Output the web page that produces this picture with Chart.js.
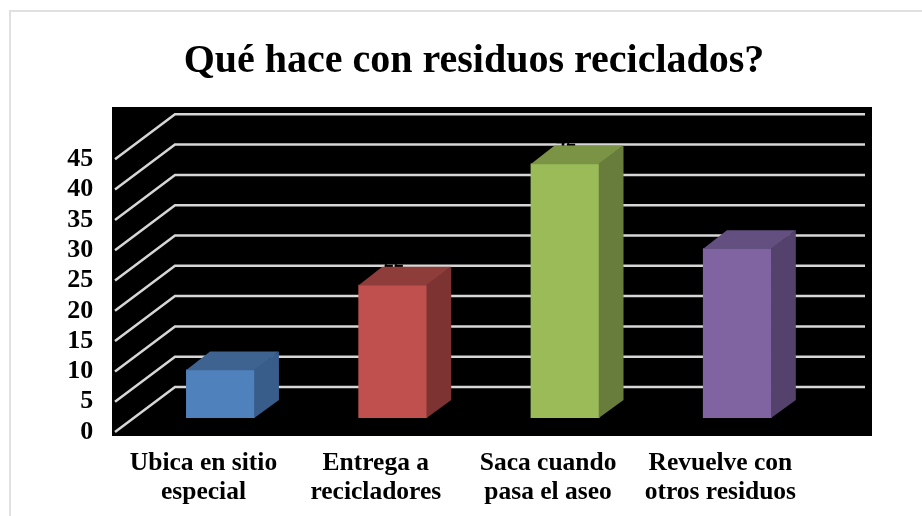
<!DOCTYPE html>
<html><head><meta charset="utf-8">
<style>html,body{margin:0;padding:0;background:#fff}canvas{display:block}</style>
<script src="https://cdn.jsdelivr.net/npm/chart.js@4"></script>
</head><body>
<div style="width:922px;height:516px;position:relative"><canvas id="c"></canvas></div>
<script>
const titleText = 'Qué hace con residuos reciclados?';
const categories = [['Ubica en sitio','especial'],['Entrega a','recicladores'],['Saca cuando','pasa el aseo'],['Revuelve con','otros residuos']];
const seriesValues = [8, 22, 42, 28];
const tickValues = [0,5,10,15,20,25,30,35,40,45];
const frontColors = ['#4f81bd','#c0504d','#9bbb59','#8064a2'];
const topColors = ['#3f6390','#8e3d3b','#7a9345','#634f80'];
const sideColors = ['#385d8a','#7d3331','#687d3c','#55426c'];
const fontFamily = '"Liberation Serif", serif';

const depth3d = {
  id:'depth3d',
  beforeDraw(chart){
    const c = chart.ctx;
    c.save();
    c.strokeStyle='#e0e0e0'; c.lineWidth=2;
    c.strokeRect(10,11,940,540);
    c.fillStyle='#000'; c.fillRect(112,107,760,329);
    c.restore();
  },
  beforeDatasetsDraw(chart){
    const c = chart.ctx, s = chart.scales.y2;
    c.save();
    c.strokeStyle='#d6d6d6'; c.lineWidth=2.5;
    tickValues.forEach(v=>{
      const y = s.getPixelForValue(v);
      c.beginPath(); c.moveTo(115,y); c.lineTo(175,y-45); c.lineTo(865,y-45); c.stroke();
    });
    const meta = chart.getDatasetMeta(0);
    c.fillStyle='#000'; c.textAlign='center'; c.textBaseline='bottom';
    c.font='bold 20px '+fontFamily;
    meta.data.forEach((b,i)=>c.fillText(String(seriesValues[i]), b.x+1, b.y-13));
    c.restore();
  },
  afterDatasetsDraw(chart){
    const c = chart.ctx, dx=24, dy=18, seam=0.75;
    c.save();
    chart.getDatasetMeta(0).data.forEach((b,i)=>{
      const l=b.x-b.width/2, r=b.x+b.width/2, t=b.y, bt=b.base;
      c.fillStyle=topColors[i];
      c.beginPath(); c.moveTo(l,t+seam); c.lineTo(l+dx,t-dy); c.lineTo(r+dx,t-dy); c.lineTo(r,t+seam); c.closePath(); c.fill();
      c.fillStyle=sideColors[i];
      c.beginPath(); c.moveTo(r-seam,t); c.lineTo(r+dx,t-dy); c.lineTo(r+dx,bt-dy); c.lineTo(r-seam,bt); c.closePath(); c.fill();
    });
    c.restore();
  }
};

new Chart(document.getElementById('c'),{
  type:'bar',
  data:{labels:categories,datasets:[{data:seriesValues,backgroundColor:frontColors,borderWidth:0,barPercentage:0.4,categoryPercentage:1,yAxisID:'y',xAxisID:'x'}]},
  plugins:[depth3d],
  options:{
    responsive:true,maintainAspectRatio:false,animation:false,
    layout:{padding:{left:26,right:0,top:0,bottom:0}},
    plugins:{
      legend:{display:false},tooltip:{enabled:false},
      title:{display:true,text:titleText,color:'#000',fullSize:true,
        font:{family:fontFamily,size:40,weight:'bold',lineHeight:1.2},padding:{top:38,bottom:21}}
    },
    scales:{
      x:{grid:{display:false},border:{display:false},
        afterFit(s){s.height=80;},
        ticks:{color:'#000',maxRotation:0,autoSkip:false,labelOffset:-17,padding:4,font:{family:fontFamily,size:25.5,weight:'bold',lineHeight:1.17}}},
      y:{position:'right',min:-2.97,max:51.32,grid:{display:false},border:{display:false},
        afterFit(s){s.width=98.5;},ticks:{display:false}},
      y2:{position:'left',min:-0.66,max:53.63,grid:{display:false},border:{display:false},
        afterFit(s){s.width=108.35;},
        afterBuildTicks(s){s.ticks=tickValues.map(v=>({value:v}));},
        ticks:{color:'#000',padding:33,font:{family:fontFamily,size:26,weight:'bold'}}}
    }
  }
});
</script></body></html>
